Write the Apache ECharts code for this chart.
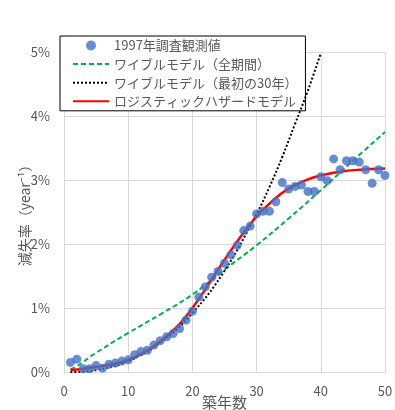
<!DOCTYPE html>
<html>
<head>
<meta charset="utf-8">
<script src="https://cdn.jsdelivr.net/npm/echarts@6/dist/echarts.min.js"></script>
<style>html,body{margin:0;padding:0;background:#fff}#c{width:395px;height:410px}</style>
</head>
<body>
<div id="c"></div>
<script>
// Observed (1997 survey) hazard, % per year, by building age 1..50
var ages = [1,2,3,4,5,6,7,8,9,10,11,12,13,14,15,16,17,18,19,20,21,22,23,24,25,26,27,28,29,30,31,32,33,34,35,36,37,38,39,40,41,42,43,44,45,46,47,48,49,50];
var observed = [0.15,0.20,0.05,0.05,0.10,0.06,0.12,0.14,0.17,0.19,0.27,0.32,0.34,0.42,0.49,0.55,0.60,0.68,0.81,0.95,1.17,1.33,1.48,1.57,1.70,1.83,1.98,2.21,2.28,2.47,2.51,2.51,2.66,2.96,2.86,2.90,2.92,2.82,2.82,3.05,2.99,3.33,3.16,3.30,3.30,3.28,3.16,2.95,3.16,3.07];

// Weibull model (whole period)
var weibullAllX = [1,2,5,10,15,20,25,30,35,40,45,50];
var weibullAllY = [0.04,0.09,0.30,0.61,0.90,1.21,1.60,1.98,2.40,2.84,3.30,3.75];

// Weibull model (first 30 years)
var weibull30X = [1,5,10,15,20,25,30,32,34,36,38,40];
var weibull30Y = [0.00,0.03,0.17,0.46,0.92,1.58,2.47,2.89,3.36,3.88,4.40,4.98];

// Logistic hazard model
var logisticX = [1,3,5,8,10,12,14,16,18,20,22,24,26,28,30,32,34,36,38,40,43,46,50];
var logisticY = [0.03,0.05,0.08,0.13,0.19,0.28,0.40,0.56,0.75,1.00,1.29,1.60,1.90,2.18,2.43,2.63,2.80,2.92,3.01,3.07,3.13,3.16,3.18];

var yTicks = [0,1,2,3,4,5];
var xTicks = [0,10,20,30,40,50];

var names = ['1997年調査観測値','ワイブルモデル（全期間）','ワイブルモデル（最初の30年）','ロジスティックハザードモデル'];

function pairs(xs, ys){ return xs.map(function(x,i){ return [x, ys[i]]; }); }

var FONT = '"Noto Sans CJK JP", "Noto Sans", sans-serif';
var TXT = '#595959';

var chart = echarts.init(document.getElementById('c'), null, {renderer:'canvas'});
chart.setOption({
  animation: false,
  textStyle: {fontFamily: FONT},
  grid: {left: 64, right: 10, top: 52, bottom: 38, outerBoundsMode: 'none', containLabel: false},
  legend: {
    orient: 'vertical',
    left: 60, top: 36,
    backgroundColor: '#fff',
    borderColor: '#000', borderWidth: 1,
    padding: [3, 8, 3, 12],
    itemWidth: 36, itemHeight: 10, itemGap: 5.6,
    textStyle: {fontFamily: FONT, fontSize: 13, color: TXT},
    data: [
      {name: names[0]},
      {name: names[1], itemStyle: {opacity: 0}},
      {name: names[2], itemStyle: {opacity: 0}},
      {name: names[3], itemStyle: {opacity: 0}}
    ]
  },
  xAxis: {
    type: 'value', min: xTicks[0], max: xTicks[xTicks.length-1], interval: 10,
    name: '築年数', nameLocation: 'middle', nameGap: 23, nameMoveOverlap: false,
    nameTextStyle: {fontFamily: FONT, fontSize: 15, color: TXT},
    axisLine: {show: true, lineStyle: {color: '#d9d9d9'}},
    axisTick: {show: false},
    axisLabel: {fontFamily: FONT, fontSize: 13, color: TXT, margin: 13},
    splitLine: {show: true, lineStyle: {color: '#d9d9d9', width: 1}}
  },
  yAxis: {
    type: 'value', min: yTicks[0], max: yTicks[yTicks.length-1], interval: 1,
    name: '減失率（year⁻¹）', nameLocation: 'middle', nameGap: 32, nameRotate: 90, nameMoveOverlap: false,
    nameTextStyle: {fontFamily: FONT, fontSize: 14, color: TXT},
    axisLine: {show: true, lineStyle: {color: '#d9d9d9'}},
    axisTick: {show: false},
    axisLabel: {fontFamily: FONT, fontSize: 13, color: TXT, margin: 14, formatter: '{value}%'},
    splitLine: {show: true, lineStyle: {color: '#d9d9d9', width: 1}}
  },
  series: [
    {
      name: names[0], type: 'scatter', z: 10,
      symbol: 'circle', symbolSize: 9,
      itemStyle: {color: '#4472C4'},
      data: pairs(ages, observed)
    },
    {
      name: names[1], type: 'line', smooth: 0.4, symbol: 'none', z: 3,
      lineStyle: {color: '#00B050', width: 2, type: [5, 3]},
      itemStyle: {color: '#00B050'},
      data: pairs(weibullAllX, weibullAllY)
    },
    {
      name: names[2], type: 'line', smooth: 0.4, symbol: 'none', z: 4,
      lineStyle: {color: '#000', width: 2, type: [2, 2]},
      itemStyle: {color: '#000'},
      data: pairs(weibull30X, weibull30Y)
    },
    {
      name: names[3], type: 'line', smooth: 0.4, symbol: 'none', z: 5,
      lineStyle: {color: '#FF0000', width: 2.5},
      itemStyle: {color: '#FF0000'},
      data: pairs(logisticX, logisticY)
    }
  ]
});
</script>
</body>
</html>
